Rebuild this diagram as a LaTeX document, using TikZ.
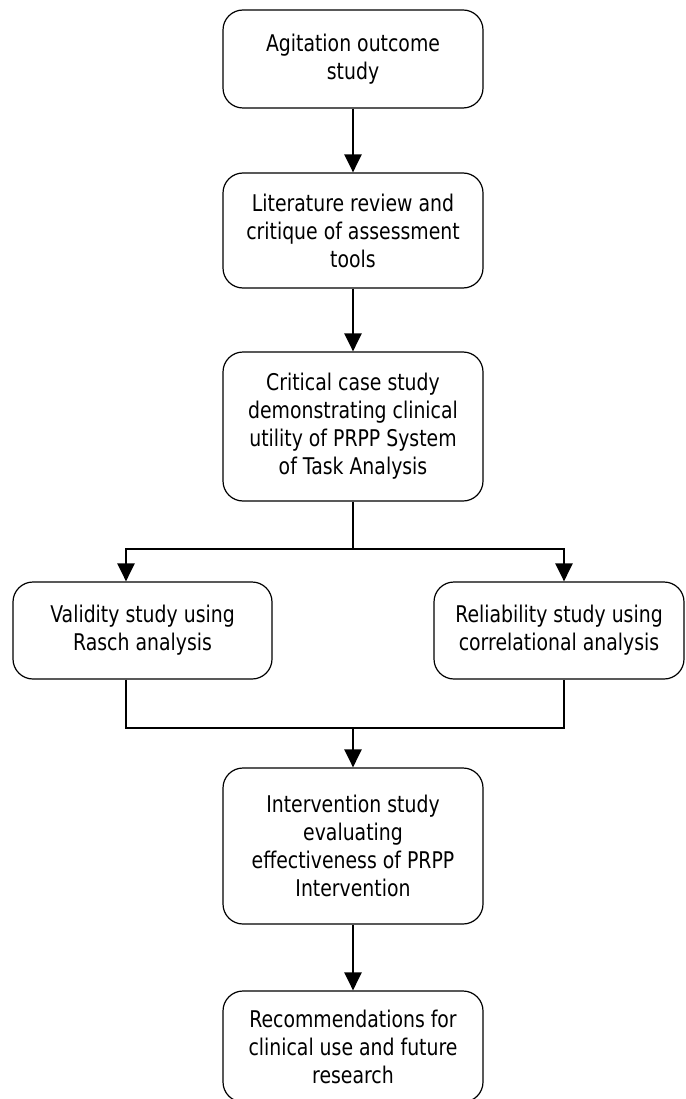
\documentclass[tikz,border=0pt]{standalone}
\usepackage{fontspec}
\setmainfont{DejaVu Sans}[FakeStretch=0.82]
\usetikzlibrary{arrows.meta}

\begin{document}
\begin{tikzpicture}[x=1pt, y=-1pt, every node/.style={font=\fontsize{23}{28}\selectfont}, >={Triangle[length=18pt, width=17pt]}, stage/.style={draw, line width=1.2pt, rounded corners=20pt, align=center, minimum width=260pt, inner sep=0pt}, link/.style={line width=2.6pt}]
	\useasboundingbox (0,0) rectangle (685,1099);
	\clip (0,0) rectangle (685,1099);
	\node[stage, minimum height=98pt] (agit) at (353,59) {Agitation outcome\\study};
	\node[stage, minimum height=115pt] (lit) at (353,230.5) {Literature review and\\critique of assessment\\tools};
	\node[stage, minimum height=149pt] (crit) at (353,426.5) {Critical case study\\demonstrating clinical\\utility of PRPP System\\of Task Analysis};
	\node[stage, minimum height=97pt, minimum width=259pt] (valid) at (142.5,630.5) {Validity study using\\Rasch analysis};
	\node[stage, minimum height=97pt, minimum width=250pt] (reliab) at (559,630.5) {Reliability study using\\correlational analysis};
	\node[stage, minimum height=156pt] (interv) at (353,846) {Intervention study\\evaluating\\effectiveness of PRPP\\Intervention};
	\node[stage, minimum height=111pt] (recomm) at (353,1046.5) {Recommendations for\\clinical use and future\\research};
	\coordinate (split) at (353,549);
	\coordinate (merge) at (353,728);
	\draw[link, ->] (agit) -- (lit);
	\draw[link, ->] (lit) -- (crit);
	\draw[link, ->] (crit) -- (split) -| ([xshift=-16.5pt]valid.north);
	\draw[link, ->] (split) -| ([xshift=5pt]reliab.north);
	\draw[link] ([xshift=-16.5pt]valid.south) |- (merge) -| ([xshift=5pt]reliab.south);
	\draw[link, ->] (merge) -- (interv);
	\draw[link, ->] (interv) -- (recomm);
\end{tikzpicture}
\end{document}
